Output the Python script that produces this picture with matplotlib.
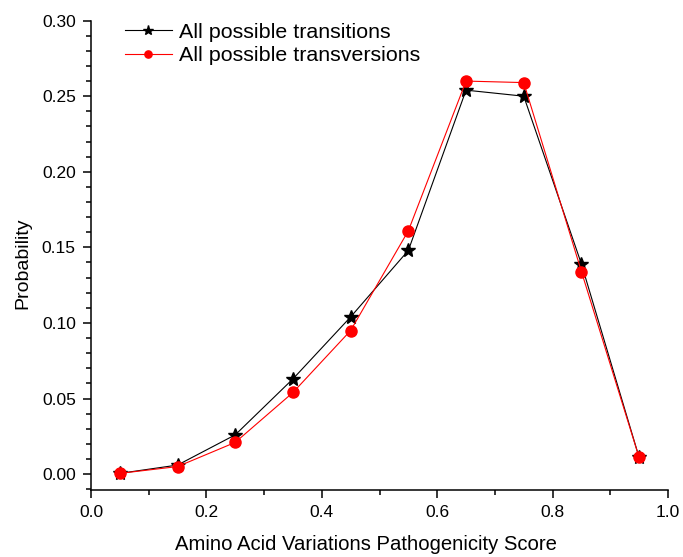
import matplotlib.pyplot as plt
from matplotlib.ticker import MultipleLocator

plt.rcParams["font.family"] = ["Liberation Sans", "DejaVu Sans"]

# bin centres of the pathogenicity score
score = [0.05, 0.15, 0.25, 0.35, 0.45, 0.55, 0.65, 0.75, 0.85, 0.95]
transitions = [0.0005, 0.006, 0.026, 0.063, 0.104, 0.148, 0.254, 0.250, 0.139, 0.011]
transversions = [0.0005, 0.005, 0.021, 0.054, 0.095, 0.161, 0.260, 0.259, 0.134, 0.011]

fig = plt.figure(figsize=(6.83, 5.57), dpi=100)
ax = fig.add_axes([0.1333, 0.1203, 0.8447, 0.8427])

ax.plot(score, transitions, color="black", lw=0.8, marker="*", ms=10.5,
        label="All possible transitions")
ax.plot(score, transversions, color="red", lw=0.8, marker="o", ms=8,
        label="All possible transversions")

ax.set_xlim(0.0, 1.0)
ax.set_ylim(-0.0105, 0.30)
ax.xaxis.set_major_locator(MultipleLocator(0.2))
ax.xaxis.set_minor_locator(MultipleLocator(0.1))
ax.yaxis.set_major_locator(MultipleLocator(0.05))
ax.yaxis.set_minor_locator(MultipleLocator(0.01))
ax.xaxis.set_major_formatter(lambda v, p: f"{v:.1f}")
ax.yaxis.set_major_formatter(lambda v, p: f"{v:.2f}")

for side in ("top", "right"):
    ax.spines[side].set_visible(False)
for side in ("left", "bottom"):
    ax.spines[side].set_linewidth(1.1)
ax.spines["left"].set_bounds(-0.0105, 0.30)

ax.tick_params(which="major", direction="out", length=6, width=1.1,
               labelsize=12.5, pad=5)
ax.tick_params(which="minor", direction="out", length=3.5, width=1.1)

ax.set_xlabel("Amino Acid Variations Pathogenicity Score", fontsize=14.6, labelpad=11)
ax.xaxis.set_label_coords(0.477, -0.095)
ax.set_ylabel("Probability", fontsize=14, labelpad=8)
ax.yaxis.set_label_coords(-0.104, 0.482)

ax.legend(loc="upper left", bbox_to_anchor=(0.058, 0.995), frameon=False,
          fontsize=15.4, handlelength=2.2, handletextpad=0.33,
          labelspacing=0.2, borderpad=0, borderaxespad=0, markerscale=0.65)

fig.savefig("out.png", dpi=100)
